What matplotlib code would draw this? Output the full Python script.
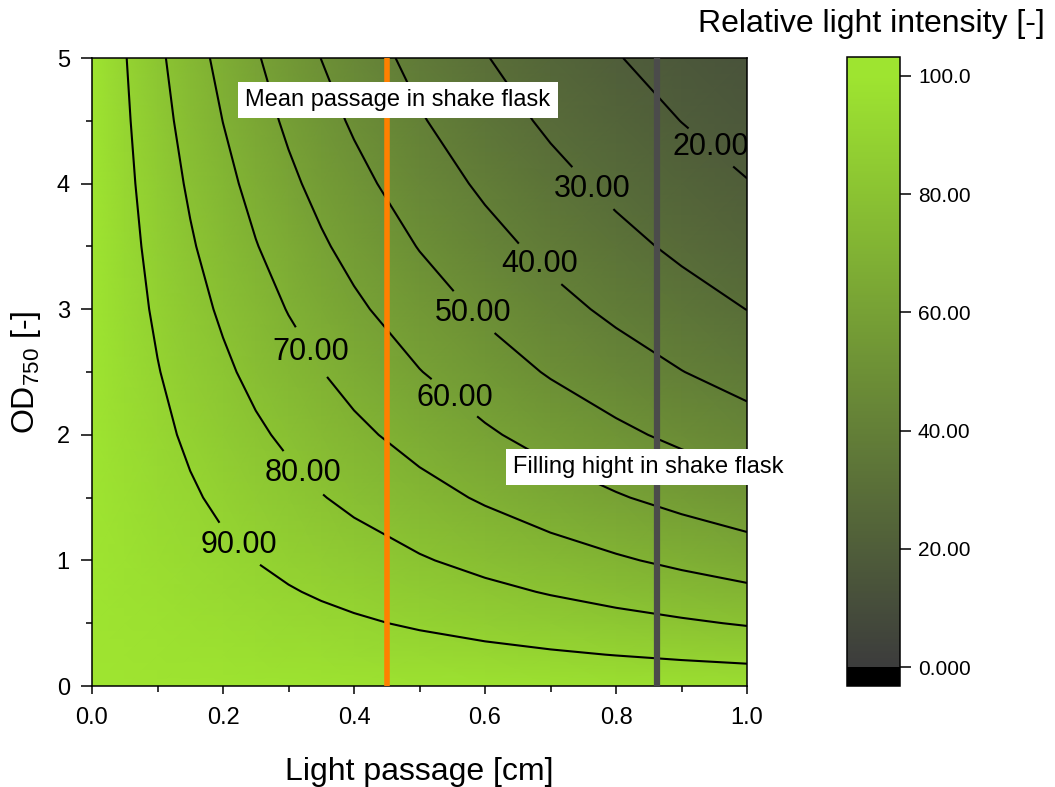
import numpy as np
import matplotlib.pyplot as plt
from matplotlib.colors import LinearSegmentedColormap

plt.rcParams['font.family'] = ['Liberation Sans', 'DejaVu Sans']
plt.rcParams['mathtext.fontset'] = 'custom'
plt.rcParams['mathtext.rm'] = 'Liberation Sans'
plt.rcParams['mathtext.it'] = 'Liberation Sans:italic'

# Light passage [cm] (columns) and OD750 (rows)
passage = [0.0, 0.05, 0.1, 0.15, 0.2, 0.25, 0.3, 0.35, 0.4, 0.5, 0.6, 0.7, 0.8, 0.9, 1.0]
od750 = [0.0, 0.25, 0.5, 0.75, 1.0, 1.5, 2.0, 2.5, 3.0, 3.5, 4.0, 4.5, 5.0]

# Relative light intensity [-], one row per OD value
intensity = [
    [100, 99.8, 99.6, 99.4, 99.3, 99.1, 98.9, 98.7, 98.5, 98.2, 97.8, 97.4, 97.1, 96.7, 96.4],
    [100, 99.3, 98.7, 98.0, 97.3, 96.7, 96.0, 95.4, 94.8, 93.5, 92.2, 91.0, 89.8, 88.6, 87.4],
    [100, 98.8, 97.7, 96.6, 95.5, 94.4, 93.3, 92.2, 91.1, 89.0, 87.0, 85.0, 83.1, 81.2, 79.3],
    [100, 98.4, 96.8, 95.2, 93.6, 92.1, 90.6, 89.1, 87.7, 84.8, 82.1, 79.4, 76.8, 74.3, 71.9],
    [100, 97.9, 95.8, 93.8, 91.8, 89.9, 88.0, 86.1, 84.3, 80.8, 77.4, 74.2, 71.1, 68.1, 65.2],
    [100, 96.9, 94.0, 91.1, 88.3, 85.6, 83.0, 80.4, 78.0, 73.3, 68.9, 64.7, 60.8, 57.1, 53.7],
    [100, 96.0, 92.2, 88.5, 84.9, 81.5, 78.3, 75.1, 72.1, 66.5, 61.3, 56.4, 52.0, 47.9, 44.2],
    [100, 95.1, 90.4, 85.9, 81.7, 77.6, 73.8, 70.2, 66.7, 60.3, 54.5, 49.2, 44.5, 40.2, 36.3],
    [100, 94.1, 88.6, 83.4, 78.6, 74.0, 69.6, 65.5, 61.7, 54.7, 48.5, 43.0, 38.1, 33.7, 29.9],
    [100, 93.2, 86.9, 81.0, 75.5, 70.4, 65.7, 61.2, 57.1, 49.6, 43.1, 37.5, 32.6, 28.3, 24.6],
    [100, 92.3, 85.2, 78.7, 72.7, 67.1, 61.9, 57.2, 52.8, 44.9, 38.4, 32.7, 27.9, 23.8, 20.3],
    [100, 91.4, 83.6, 76.4, 69.9, 63.9, 58.4, 53.4, 48.8, 40.8, 34.1, 28.5, 23.8, 19.9, 16.7],
    [100, 90.5, 82.0, 74.2, 67.2, 60.9, 55.1, 49.9, 45.2, 37.0, 30.4, 24.9, 20.4, 16.7, 13.7],
]

levels = [20, 30, 40, 50, 60, 70, 80, 90]
# where the contour labels sit (passage, OD)
label_pos = [(0.937, 4.24), (0.762, 3.95), (0.682, 3.35), (0.582, 2.97),
             (0.554, 2.30), (0.326, 2.63), (0.321, 1.69), (0.223, 1.12)]

mean_passage = 0.45
filling_height = 0.862

cbar_ticks = [0, 20, 40, 60, 80, 100]
cbar_labels = ['0.000', '20.00', '40.00', '60.00', '80.00', '100.0']

cmap = LinearSegmentedColormap.from_list('olive', ['#3c3c3c', '#9ee430'])
cmap.set_under('black')
cmap.set_over('#9ee430')

fig = plt.figure(figsize=(10.55, 7.87), dpi=100)
ax = fig.add_axes([0.0872, 0.1283, 0.6209, 0.798])
cax = fig.add_axes([0.8028, 0.1283, 0.0502, 0.7992])

x = np.array(passage)
y = np.array(od750)
z = np.array(intensity)

mesh = ax.pcolormesh(x, y, z, shading='gouraud', cmap=cmap, vmin=0, vmax=100)
cs = ax.contour(x, y, z, levels=levels, colors='black', linewidths=1.5)
texts = ax.clabel(cs, fmt='%.2f', fontsize=22, manual=label_pos, inline=True,
                  inline_spacing=-9)
for t in texts:
    t.set_rotation(0)

ax.axvline(mean_passage, color='#ff8000', lw=4, zorder=3)
ax.axvline(filling_height, color='#4b4b4b', lw=4.5, zorder=3)

box = dict(facecolor='white', edgecolor='none', boxstyle='square,pad=0.3')
ax.text(0.467, 4.665, 'Mean passage in shake flask', ha='center', va='center',
        fontsize=17, bbox=box, zorder=6)
ax.text(0.849, 1.745, 'Filling hight in shake flask', ha='center', va='center',
        fontsize=17, bbox=box, zorder=6, clip_on=False)

ax.set_xlim(0, 1)
ax.set_ylim(0, 5)
ax.set_xticks([0, 0.2, 0.4, 0.6, 0.8, 1.0])
ax.set_xticks([0.1, 0.3, 0.5, 0.7, 0.9], minor=True)
ax.set_xticklabels(['0.0', '0.2', '0.4', '0.6', '0.8', '1.0'])
ax.set_yticks([0, 1, 2, 3, 4, 5])
ax.set_yticks([0.5, 1.5, 2.5, 3.5, 4.5], minor=True)
ax.tick_params(which='major', direction='out', length=6, width=1.1,
               labelsize=17)
ax.tick_params(axis='x', which='major', pad=9)
ax.tick_params(axis='y', which='major', length=8, pad=8)
ax.tick_params(which='minor', direction='out', length=4, width=1.1)
for s in ax.spines.values():
    s.set_linewidth(1.1)

ax.set_xlabel('Light passage [cm]', fontsize=23, labelpad=20)
ax.set_ylabel('OD$_{750}$ [-]', fontsize=23, labelpad=10)

cb = fig.colorbar(mesh, cax=cax, extend='both', extendrect=True, extendfrac=0.032)
cb.set_ticks(cbar_ticks)
cb.set_ticklabels(cbar_labels)
cb.ax.tick_params(labelsize=15, length=8, width=1.1, pad=5)
cb.ax.minorticks_off()
cb.outline.set_linewidth(1.1)
fig.text(871 / 1055, 1 - 24 / 787, 'Relative light intensity [-]', ha='center',
         va='center', fontsize=23)

fig.savefig('out.png', dpi=100)
